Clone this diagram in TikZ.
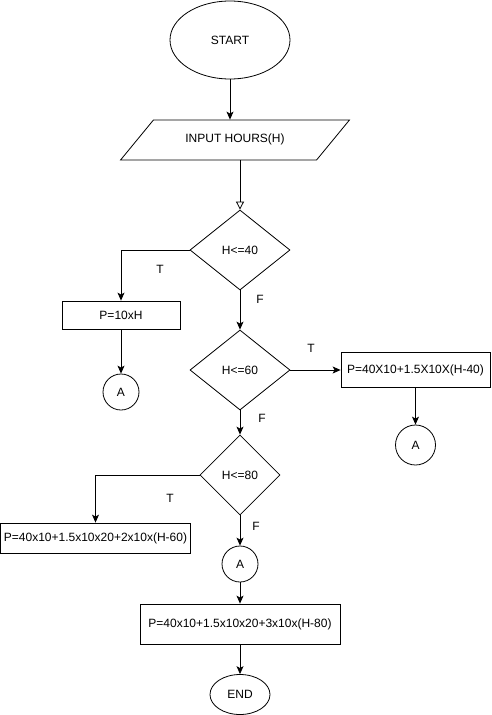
\documentclass[tikz,border=0pt]{standalone}
\usepackage{fontspec}
\setmainfont{Liberation Sans}
\usetikzlibrary{shapes.geometric, arrows.meta}
\tikzstyle{terminal}=[ellipse, draw, inner sep=0pt]
\tikzstyle{inout}=[trapezium, draw, trapezium left angle=63.4, trapezium right angle=116.6, trapezium stretches=true, text height=8pt, text depth=3pt, inner ysep=14.5pt, inner xsep=0pt, minimum width=229pt]
\tikzstyle{decision}=[diamond, draw, inner sep=0pt, minimum height=80pt]
\tikzstyle{process}=[rectangle, draw, inner sep=0pt]
\tikzstyle{connector}=[circle, draw, inner sep=0pt]
\tikzstyle{flow}=[-{Stealth[length=8pt, width=7pt, inset=2pt]}]
\tikzstyle{annot}=[inner sep=0pt]

\begin{document}
\begin{tikzpicture}[x=1pt, y=-1pt, line width=0.8pt, font=\fontsize{12}{14}\selectfont]
\useasboundingbox (0,0) rectangle (491,715);

% shapes
\node[terminal, minimum width=120pt, minimum height=78pt] (start) at (230,40) {START};
\node[inout] (input) at (235,140) {INPUT HOURS(H)};
\node[decision, minimum width=100pt] (d40) at (240,250) {H<=40};
\node[process, minimum width=118pt, minimum height=28pt] (p1) at (121,315) {P=10xH};
\node[connector, minimum size=36pt] (a1) at (121,392) {A};
\node[decision, minimum width=100pt] (d60) at (240,370) {H<=60};
\node[process, minimum width=149pt, minimum height=35pt] (p2) at (415.5,370) {P=40X10+1.5X10X(H-40)};
\node[connector, minimum size=40pt] (a2) at (415.5,445) {A};
\node[decision, minimum width=80pt] (d80) at (240,475) {H<=80};
\node[process, minimum width=190pt, minimum height=30pt] (p3) at (95.5,538) {P=40x10+1.5x10x20+2x10x(H-60)};
\node[connector, minimum size=36pt] (a3) at (240,564) {A};
\node[process, minimum width=200pt, minimum height=40pt] (p4) at (240,624) {P=40x10+1.5x10x20+3x10x(H-80)};
\node[terminal, minimum width=60pt, minimum height=40pt] (end) at (240,694.5) {END};

% connectors
\draw[flow] (start.south) -- (start.south |- input.north);
\draw[-{Triangle[open, length=8pt, width=8pt]}] (d40.north |- input.south) -- (d40.north);
\draw[flow] (d40.west) -| (p1.north);
\draw[flow] (d60.east) -- (p2.west);
\draw[flow] (d80.west) -| (p3.north);
\foreach \a/\b in {p1/a1, d40/d60, p2/a2, d60/d80, d80/a3, a3/p4, p4/end}
    \draw[flow] (\a.south) -- (\b.north);

% labels
\node[annot] (t40) at (160,269) {T};
\node[annot] (f40) at (260,299) {F};
\node[annot] (t60) at (311,348) {T};
\node[annot] (f60) at (262,418) {F};
\node[annot] (t80) at (170,498) {T};
\node[annot] (f80) at (256,526) {F};

\end{tikzpicture}
\end{document}
